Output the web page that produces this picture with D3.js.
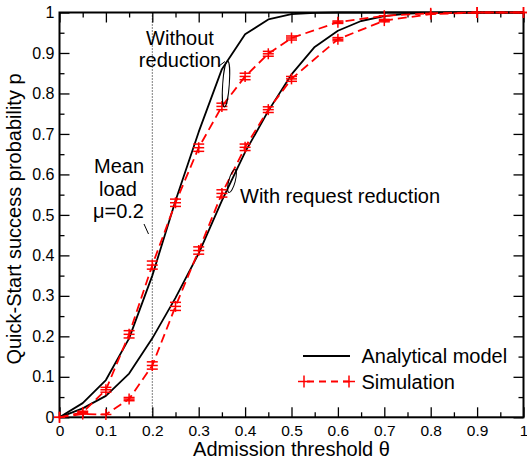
<!DOCTYPE html>
<html>
<head>
<meta charset="utf-8">
<script src="https://cdn.jsdelivr.net/npm/d3@7"></script>
<style>
  html, body { margin: 0; padding: 0; background: #fff; }
  svg { display: block; font-family: "Liberation Sans", Arial, Helvetica, sans-serif; }
</style>
</head>
<body>
<svg id="chart" width="527" height="464"></svg>
<script>
// ---- data ----
const xModel = [0, 0.05, 0.1, 0.15, 0.2, 0.25, 0.3, 0.35, 0.4, 0.45, 0.5, 0.55, 0.6, 0.65, 0.7, 0.75, 0.8, 0.85, 0.9, 0.95, 1];
const modelWithout = [0, 0.035, 0.092, 0.195, 0.35, 0.535, 0.705, 0.86, 0.946, 0.983, 0.996, 0.999, 1, 1, 1, 1, 1, 1, 1, 1, 1];
const modelWith = [0, 0.022, 0.053, 0.108, 0.195, 0.295, 0.405, 0.535, 0.655, 0.757, 0.847, 0.915, 0.955, 0.979, 0.991, 0.997, 0.999, 1, 1, 1, 1];

const xSim = [0, 0.05, 0.1, 0.15, 0.2, 0.25, 0.3, 0.35, 0.4, 0.45, 0.5, 0.6, 0.7, 0.8, 0.9, 1];
const simWithout = [0, 0.012, 0.068, 0.205, 0.376, 0.53, 0.666, 0.768, 0.842, 0.898, 0.937, 0.976, 0.992, 0.998, 1, 1];
const simWithoutErr = [0, 0.003, 0.006, 0.009, 0.01, 0.009, 0.009, 0.008, 0.008, 0.006, 0.005, 0.003, 0.002, 0.001, 0, 0];
const simWith = [0, 0.008, 0.007, 0.045, 0.128, 0.274, 0.412, 0.553, 0.667, 0.76, 0.836, 0.934, 0.98, 0.996, 1, 1];
const simWithErr = [0, 0.002, 0.002, 0.004, 0.009, 0.01, 0.009, 0.009, 0.008, 0.007, 0.006, 0.004, 0.003, 0.001, 0, 0];

const xTickValues = [0, 0.1, 0.2, 0.3, 0.4, 0.5, 0.6, 0.7, 0.8, 0.9, 1];
const xTickLabels = ["0", "0.1", "0.2", "0.3", "0.4", "0.5", "0.6", "0.7", "0.8", "0.9", "1"];
const yTickValues = [0, 0.1, 0.2, 0.3, 0.4, 0.5, 0.6, 0.7, 0.8, 0.9, 1];
const yTickLabels = ["0", "0.1", "0.2", "0.3", "0.4", "0.5", "0.6", "0.7", "0.8", "0.9", "1"];
const minorTicks = [0.05, 0.15, 0.25, 0.35, 0.45, 0.55, 0.65, 0.75, 0.85, 0.95];
const meanLoad = 0.2;

const xTitle = "Admission threshold θ";
const yTitle = "Quick-Start success probability p";
const legendLabels = ["Analytical model", "Simulation"];

// ---- layout ----
const L = 59.5, R = 523.5, T = 12.5, B = 417.3;
const svg = d3.select("#chart");
const x = d3.scaleLinear().domain([0, 1]).range([L, R]);
const y = d3.scaleLinear().domain([0, 1]).range([B, T]);
const RED = "#ff0000";

// axes with inward ticks
function styleAxis(g) {
  g.select(".domain").remove();
  g.selectAll(".tick line").attr("stroke", "#000").attr("stroke-width", 1.3);
  g.selectAll("text").attr("fill", "#000");
}
const gx = svg.append("g").attr("transform", `translate(0,${B})`)
  .call(d3.axisBottom(x).tickValues(xTickValues).tickSizeInner(-10).tickSizeOuter(0).tickPadding(8)
    .tickFormat((d, i) => xTickLabels[i]))
  .call(styleAxis);
gx.selectAll("text").attr("font-size", 15.5).attr("font-family", "Liberation Sans, Arial, sans-serif");
svg.append("g").attr("transform", `translate(0,${B})`)
  .call(d3.axisBottom(x).tickValues(minorTicks).tickSizeInner(-5).tickSizeOuter(0).tickFormat(""))
  .call(styleAxis);
svg.append("g").attr("transform", `translate(0,${T})`)
  .call(d3.axisTop(x).tickValues(xTickValues).tickSizeInner(-10).tickSizeOuter(0).tickFormat(""))
  .call(styleAxis);
svg.append("g").attr("transform", `translate(0,${T})`)
  .call(d3.axisTop(x).tickValues(minorTicks).tickSizeInner(-5).tickSizeOuter(0).tickFormat(""))
  .call(styleAxis);

const gy = svg.append("g").attr("transform", `translate(${L},0)`)
  .call(d3.axisLeft(y).tickValues(yTickValues).tickSizeInner(-10).tickSizeOuter(0).tickPadding(5)
    .tickFormat((d, i) => yTickLabels[i]))
  .call(styleAxis);
gy.selectAll("text").attr("font-size", 16).attr("font-family", "Liberation Sans, Arial, sans-serif");
svg.append("g").attr("transform", `translate(${L},0)`)
  .call(d3.axisLeft(y).tickValues(minorTicks).tickSizeInner(-5).tickSizeOuter(0).tickFormat(""))
  .call(styleAxis);
svg.append("g").attr("transform", `translate(${R},0)`)
  .call(d3.axisRight(y).tickValues(yTickValues).tickSizeInner(-10).tickSizeOuter(0).tickFormat(""))
  .call(styleAxis);
svg.append("g").attr("transform", `translate(${R},0)`)
  .call(d3.axisRight(y).tickValues(minorTicks).tickSizeInner(-5).tickSizeOuter(0).tickFormat(""))
  .call(styleAxis);

// frame
svg.append("rect").attr("x", L).attr("y", T).attr("width", R - L).attr("height", B - T)
  .attr("fill", "none").attr("stroke", "#000").attr("stroke-width", 2);

// axis titles
svg.append("text").attr("x", (L + R) / 2).attr("y", 456).attr("text-anchor", "middle")
  .attr("font-size", 20).text(xTitle);
svg.append("text").attr("transform", `translate(21,${219}) rotate(-90)`).attr("text-anchor", "middle")
  .attr("font-size", 20).text(yTitle);

// mean load dotted line
svg.append("line").attr("x1", x(meanLoad)).attr("x2", x(meanLoad)).attr("y1", y(1)).attr("y2", y(0))
  .attr("stroke", "#000").attr("stroke-width", 1).attr("stroke-dasharray", "1,2");

// analytical curves
const line = d3.line().x(d => x(d[0])).y(d => y(d[1]));
[modelWithout, modelWith].forEach(vals => {
  svg.append("path").datum(xModel.map((v, i) => [v, vals[i]])).attr("d", line)
    .attr("fill", "none").attr("stroke", "#000").attr("stroke-width", 1.8).attr("stroke-linejoin", "round");
});

// simulation curves
[[simWithout, simWithoutErr], [simWith, simWithErr]].forEach(([vals, errs]) => {
  svg.append("path").datum(xSim.map((v, i) => [v, vals[i]])).attr("d", line)
    .attr("fill", "none").attr("stroke", RED).attr("stroke-width", 1.8).attr("stroke-dasharray", "9,5");
  const g = svg.append("g").attr("stroke", RED).attr("stroke-width", 1.5);
  xSim.forEach((v, i) => {
    const cx = x(v), cy = y(vals[i]);
    const top = y(vals[i] + errs[i]), bot = y(vals[i] - errs[i]);
    g.append("line").attr("x1", cx - 5.5).attr("x2", cx + 5.5).attr("y1", cy).attr("y2", cy);
    g.append("line").attr("x1", cx).attr("x2", cx).attr("y1", Math.min(cy - 5.5, top)).attr("y2", Math.max(cy + 5.5, bot));
    if (errs[i] > 0.002) {
      g.append("line").attr("x1", cx - 5.5).attr("x2", cx + 5.5).attr("y1", top).attr("y2", top);
      g.append("line").attr("x1", cx - 5.5).attr("x2", cx + 5.5).attr("y1", bot).attr("y2", bot);
    }
  });
});

// annotations
const ann = svg.append("g").attr("font-size", 20).attr("fill", "#000");
ann.append("text").attr("x", 180).attr("y", 45).attr("text-anchor", "middle").text("Without");
ann.append("text").attr("x", 180).attr("y", 67).attr("text-anchor", "middle").text("reduction");
ann.append("text").attr("x", 119).attr("y", 173).attr("text-anchor", "middle").text("Mean");
ann.append("text").attr("x", 118).attr("y", 195.5).attr("text-anchor", "middle").text("load");
ann.append("text").attr("x", 118.5).attr("y", 218).attr("text-anchor", "middle").text("μ=0.2");
ann.append("text").attr("x", 240).attr("y", 203).text("With request reduction");

svg.append("line").attr("x1", 144).attr("y1", 224).attr("x2", 148.5).attr("y2", 234)
  .attr("stroke", "#000").attr("stroke-width", 1);
svg.append("ellipse").attr("transform", "translate(226,84) rotate(4)").attr("rx", 3.3).attr("ry", 23)
  .attr("fill", "none").attr("stroke", "#000").attr("stroke-width", 1);
svg.append("line").attr("x1", 219).attr("y1", 66).attr("x2", 225).attr("y2", 61.5)
  .attr("stroke", "#000").attr("stroke-width", 1);
svg.append("ellipse").attr("transform", "translate(232,181) rotate(15)").attr("rx", 3.2).attr("ry", 12)
  .attr("fill", "none").attr("stroke", "#000").attr("stroke-width", 1);

// legend
const lg = svg.append("g");
lg.append("line").attr("x1", 303).attr("x2", 350).attr("y1", 356).attr("y2", 356)
  .attr("stroke", "#000").attr("stroke-width", 1.8);
lg.append("text").attr("x", 361.5).attr("y", 363).attr("font-size", 20).text(legendLabels[0]);
lg.append("line").attr("x1", 304).attr("x2", 349).attr("y1", 381.5).attr("y2", 381.5)
  .attr("stroke", RED).attr("stroke-width", 1.8).attr("stroke-dasharray", "7,5").attr("stroke-dashoffset", -3);
[304, 349].forEach(cx => {
  lg.append("line").attr("x1", cx - 6).attr("x2", cx + 6).attr("y1", 381.5).attr("y2", 381.5).attr("stroke", RED).attr("stroke-width", 1.5);
  lg.append("line").attr("x1", cx).attr("x2", cx).attr("y1", 375.5).attr("y2", 387.5).attr("stroke", RED).attr("stroke-width", 1.5);
});
lg.append("text").attr("x", 361.5).attr("y", 388.5).attr("font-size", 20).text(legendLabels[1]);
</script>
</body>
</html>
